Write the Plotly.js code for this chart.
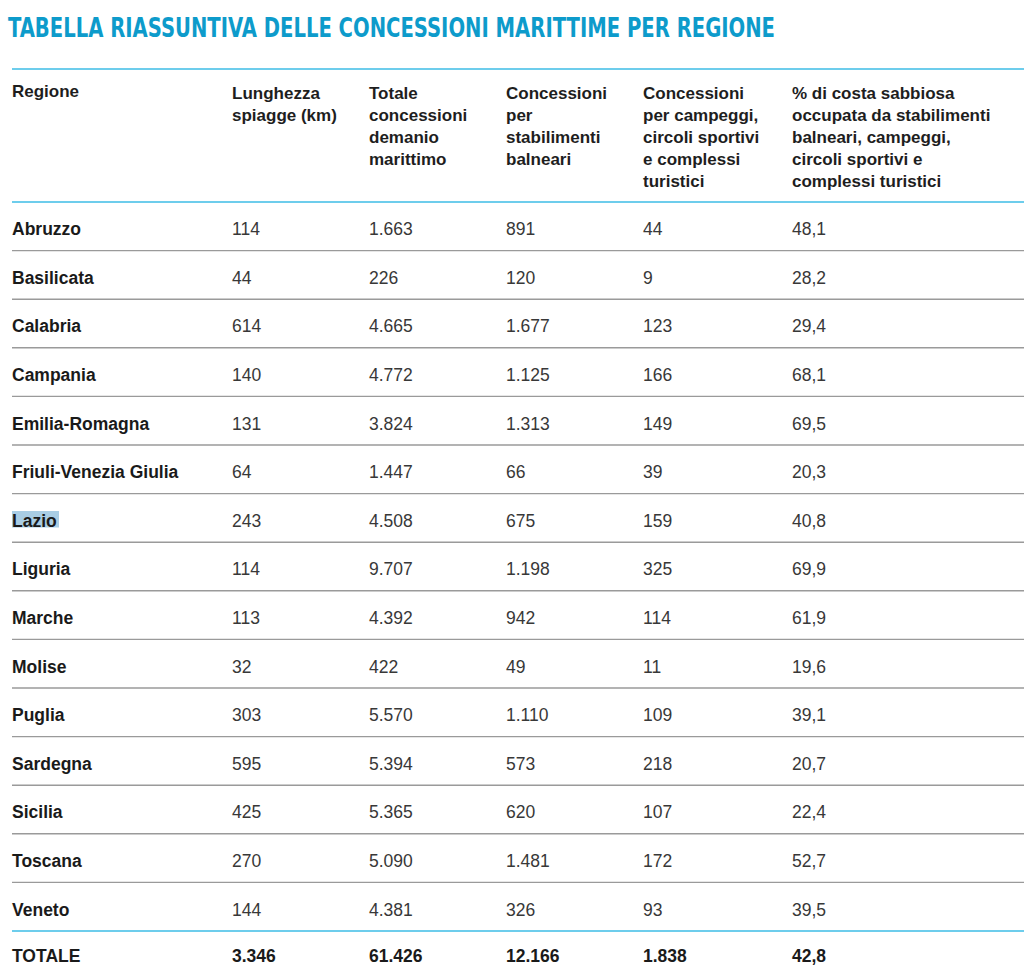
<!DOCTYPE html>
<html>
<head>
<meta charset="utf-8">
<script src="https://cdn.plot.ly/plotly-3.0.1.min.js"></script>
<style>html,body{margin:0;padding:0;background:#fff;}#chart{width:1024px;height:971px;}</style>
</head>
<body>
<div id="chart"></div>
<script>
// ---- data ----
const titleText = 'TABELLA RIASSUNTIVA DELLE CONCESSIONI MARITTIME PER REGIONE';
const headerLines = [
  ['Regione'],
  ['Lunghezza', 'spiagge (km)'],
  ['Totale', 'concessioni', 'demanio', 'marittimo'],
  ['Concessioni', 'per', 'stabilimenti', 'balneari'],
  ['Concessioni', 'per campeggi,', 'circoli sportivi', 'e complessi', 'turistici'],
  ['% di costa sabbiosa', 'occupata da stabilimenti', 'balneari, campeggi,', 'circoli sportivi e', 'complessi turistici']
];
const regions = ['Abruzzo', 'Basilicata', 'Calabria', 'Campania', 'Emilia-Romagna', 'Friuli-Venezia Giulia',
  'Lazio', 'Liguria', 'Marche', 'Molise', 'Puglia', 'Sardegna', 'Sicilia', 'Toscana', 'Veneto'];
const lunghezzaKm = [114, 44, 614, 140, 131, 64, 243, 114, 113, 32, 303, 595, 425, 270, 144];
const totaleConcessioni = [1663, 226, 4665, 4772, 3824, 1447, 4508, 9707, 4392, 422, 5570, 5394, 5365, 5090, 4381];
const concessioniStabilimenti = [891, 120, 1677, 1125, 1313, 66, 675, 1198, 942, 49, 1110, 573, 620, 1481, 326];
const concessioniCampeggi = [44, 9, 123, 166, 149, 39, 159, 325, 114, 11, 109, 218, 107, 172, 93];
const percCostaOccupata = [48.1, 28.2, 29.4, 68.1, 69.5, 20.3, 40.8, 69.9, 61.9, 19.6, 39.1, 20.7, 22.4, 52.7, 39.5];
const totaleLabel = 'TOTALE';
const totali = [3346, 61426, 12166, 1838, 42.8];
const highlightedRegion = 'Lazio';

// ---- formatting (Italian) ----
function fmtInt(n) { return String(Math.round(n)).replace(/\B(?=(\d{3})+(?!\d))/g, '.'); }
function fmtDec(n) { return n.toFixed(1).replace('.', ','); }

// ---- geometry (pixels) ----
const W = 1024, H = 971;
const xp = x => x / W;
const yp = y => 1 - y / H;
const topLine = 69, headerH = 133, rowH = 48.6;
const headerLine = topLine + headerH;
const nRows = regions.length;
const totalLine = headerLine + rowH * nRows;
const dyHead = 7, dyCell = 12, dyTotal = 10; // text offsets inside cells
const colW = [220, 137, 137, 137, 149, 240];

const fontFam = '"Liberation Sans", Arial, Helvetica, sans-serif';
const fs = 17.5, fsHead = 17;
const clear = 'rgba(0,0,0,0)';

const tableMain = {
  type: 'table',
  domain: { x: [xp(4), 1], y: [yp(totalLine + dyCell), yp(topLine + dyHead)] },
  columnwidth: colW,
  header: {
    values: headerLines.map(l => l.join('<br>')),
    height: headerH + dyCell - dyHead,
    align: 'left',
    fill: { color: clear },
    line: { width: 0, color: clear },
    font: { family: fontFam, size: fsHead, color: '#1e1e1e', weight: 'bold' }
  },
  cells: {
    values: [
      regions,
      lunghezzaKm.map(fmtInt),
      totaleConcessioni.map(fmtInt),
      concessioniStabilimenti.map(fmtInt),
      concessioniCampeggi.map(fmtInt),
      percCostaOccupata.map(fmtDec)
    ],
    height: rowH,
    align: 'left',
    fill: { color: clear },
    line: { width: 0, color: clear },
    font: {
      family: fontFam, size: fs,
      color: ['#1a1a1a', '#383838', '#383838', '#383838', '#383838', '#383838'],
      weight: ['bold', 'normal', 'normal', 'normal', 'normal', 'normal']
    }
  }
};

const tableTotal = {
  type: 'table',
  domain: { x: [xp(4), 1], y: [0, yp(totalLine + dyTotal)] },
  columnwidth: colW,
  header: {
    values: [totaleLabel].concat(totali.map((v, i) => (i === totali.length - 1 ? fmtDec(v) : fmtInt(v)))),
    height: H - totalLine - dyTotal,
    align: 'left',
    fill: { color: clear },
    line: { width: 0, color: clear },
    font: { family: fontFam, size: fs, color: '#1a1a1a', weight: 'bold' }
  },
  cells: {
    values: [[], [], [], [], [], []],
    height: 1,
    fill: { color: clear },
    line: { width: 0, color: clear }
  }
};

// separator lines
const shapes = [];
const blue = '#3dbde6', grey = '#9a9a9a';
function hline(y, color, w) {
  shapes.push({ type: 'line', xref: 'paper', yref: 'paper', x0: xp(12), x1: 1, y0: yp(y), y1: yp(y),
    line: { color: color, width: w }, layer: 'above' });
}
hline(topLine, blue, 1.6);
hline(headerLine, blue, 1.6);
for (let k = 1; k < nRows; k++) hline(headerLine + rowH * k, grey, 1.4);
hline(totalLine, blue, 1.6);

// text-selection highlight on one region name
const hi = regions.indexOf(highlightedRegion);
const hiTop = headerLine + rowH * hi + 17.5;
shapes.push({ type: 'rect', xref: 'paper', yref: 'paper', layer: 'below',
  x0: xp(12), x1: xp(59), y0: yp(hiTop + 16.5), y1: yp(hiTop),
  fillcolor: '#a9cde4', line: { width: 0 } });

const layout = {
  width: W, height: H,
  margin: { l: 0, r: 0, t: 0, b: 0 },
  paper_bgcolor: '#ffffff',
  title: {
    text: titleText,
    x: xp(8), xanchor: 'left', xref: 'paper',
    y: yp(27.5), yanchor: 'middle', yref: 'paper',
    font: { family: '"DejaVu Sans Condensed", "DejaVu Sans", sans-serif', size: 27, color: '#0d9bcb', weight: 'bold' }
  },
  shapes: shapes,
  showlegend: false
};

Plotly.newPlot('chart', [tableMain, tableTotal], layout, { displayModeBar: false, staticPlot: true }).then(function (gd) {
  // condense the title to the width of the original's narrow display face
  const t = gd.querySelector('.gtitle');
  if (t) {
    t.setAttribute('textLength', String(767));
    t.setAttribute('lengthAdjust', 'spacingAndGlyphs');
  }
});
</script>
</body>
</html>
